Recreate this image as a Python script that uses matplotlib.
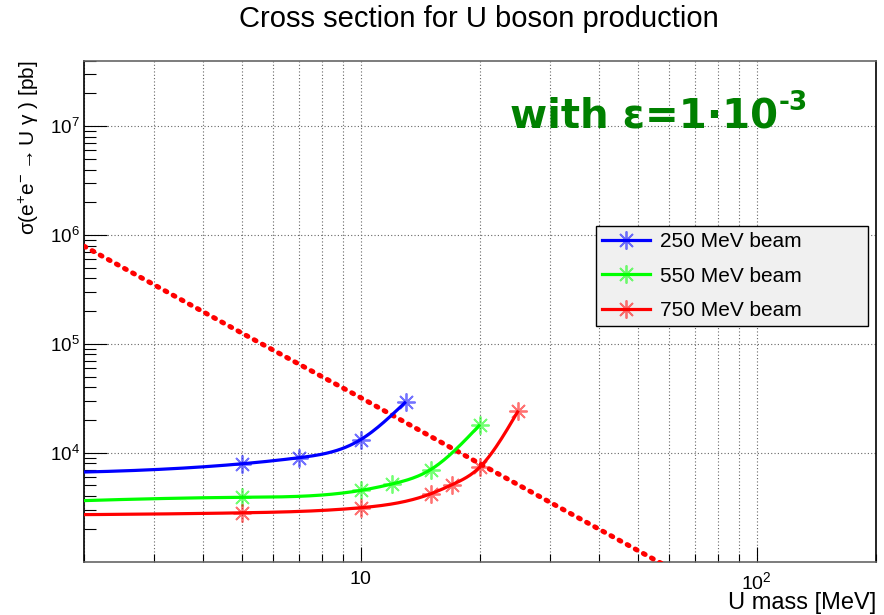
import numpy as np
import matplotlib
matplotlib.use("Agg")
import matplotlib.pyplot as plt
from matplotlib.lines import Line2D
from matplotlib.ticker import LogLocator, NullFormatter, FixedLocator, FixedFormatter

plt.rcParams['font.family'] = ['Liberation Sans', 'DejaVu Sans']
plt.rcParams['mathtext.fontset'] = 'custom'
plt.rcParams['mathtext.rm'] = 'Liberation Sans'
plt.rcParams['mathtext.it'] = 'Liberation Sans:italic'
plt.rcParams['mathtext.bf'] = 'Liberation Sans:bold'
plt.rcParams['mathtext.default'] = 'regular'

# U boson mass [MeV] and cross sections [pb] for each beam energy
mass_250 = [1, 5, 7, 10, 13]
xsec_250 = [6400, 7900, 9000, 13200, 29400]

mass_550 = [1, 5, 10, 12, 15, 20]
xsec_550 = [3330, 3890, 4500, 5160, 6980, 18100]

mass_750 = [1, 5, 10, 15, 17, 20, 25]
xsec_750 = [2660, 2800, 3120, 4180, 5080, 7400, 24400]

# reference line for epsilon = 1e-3
mass_eps = [2, 5, 10, 20, 60]
xsec_eps = [790000, 126000, 32000, 7900, 880]

series = [
    ("250 MeV beam", mass_250, xsec_250, (0, 0, 1)),
    ("550 MeV beam", mass_550, xsec_550, (0, 1, 0)),
    ("750 MeV beam", mass_750, xsec_750, (1, 0, 0)),
]


def smooth_loglog(x, y, n=300):
    """Natural cubic spline through the points in log-log space (curve drawing)."""
    lx = np.log10(np.asarray(x, float))
    ly = np.log10(np.asarray(y, float))
    k = len(lx)
    h = np.diff(lx)
    A = np.zeros((k, k))
    b = np.zeros(k)
    A[0, 0] = A[-1, -1] = 1.0
    for i in range(1, k - 1):
        A[i, i - 1] = h[i - 1]
        A[i, i] = 2 * (h[i - 1] + h[i])
        A[i, i + 1] = h[i]
        b[i] = 6 * ((ly[i + 1] - ly[i]) / h[i] - (ly[i] - ly[i - 1]) / h[i - 1])
    M = np.linalg.solve(A, b)
    xs = np.linspace(lx[0], lx[-1], n)
    idx = np.clip(np.searchsorted(lx, xs) - 1, 0, k - 2)
    x0, x1 = lx[idx], lx[idx + 1]
    hh = x1 - x0
    a = (x1 - xs) / hh
    c = (xs - x0) / hh
    ys = (a * ly[idx] + c * ly[idx + 1]
          + ((a ** 3 - a) * M[idx] + (c ** 3 - c) * M[idx + 1]) * hh ** 2 / 6)
    return 10 ** xs, 10 ** ys


fig = plt.figure(figsize=(8.84, 6.15), dpi=100)
ax = fig.add_axes([84 / 884, 1 - 561.5 / 615, 792 / 884, 500.8 / 615])

ax.set_xscale('log')
ax.set_yscale('log')
ax.set_xlim(2, 200)
ax.set_ylim(1000, 4e7)

# grid: vertical at every x tick, horizontal at decades only
ax.set_axisbelow(True)
ax.xaxis.set_major_locator(FixedLocator([10, 100]))
ax.xaxis.set_major_formatter(FixedFormatter([r'$10$', r'$10^{2}$']))
ax.xaxis.set_minor_locator(LogLocator(base=10, subs=np.arange(2, 10)))
ax.xaxis.set_minor_formatter(NullFormatter())
ax.yaxis.set_major_locator(FixedLocator([1e4, 1e5, 1e6, 1e7]))
ax.yaxis.set_major_formatter(FixedFormatter([r'$10^{4}$', r'$10^{5}$', r'$10^{6}$', r'$10^{7}$']))
ax.yaxis.set_minor_locator(LogLocator(base=10, subs=np.arange(2, 10)))
ax.yaxis.set_minor_formatter(NullFormatter())

grid_kw = dict(color='#666666', linewidth=0.8, linestyle=(0, (1, 2)))
ax.grid(True, which='both', axis='x', **grid_kw)
ax.grid(True, which='major', axis='y', **grid_kw)

ax.tick_params(axis='x', which='major', direction='in', length=11, width=0.8,
               labelsize=14, pad=7, top=False)
ax.tick_params(axis='x', which='minor', direction='in', length=6, width=0.8, top=False)
ax.tick_params(axis='y', which='major', direction='in', length=16.5, width=0.8,
               labelsize=13.5, pad=3, right=False)
ax.tick_params(axis='y', which='minor', direction='in', length=8.5, width=0.8, right=False)

for side in ('left', 'right'):
    ax.spines[side].set_color('black')
    ax.spines[side].set_linewidth(1.2)
for side in ('top', 'bottom'):
    ax.spines[side].set_color('#666666')
    ax.spines[side].set_linewidth(1.2)

# epsilon reference line
ax.plot(mass_eps, xsec_eps, color='red', linewidth=3.6,
        linestyle=(0, (0.4, 1.45)), dash_capstyle='round', zorder=3)

handles = []
for label, m, s, col in series:
    xs, ys = smooth_loglog(m, s)
    ax.plot(xs, ys, color=col, linewidth=2.3, solid_capstyle='butt', zorder=4)
    mk_col = col + (0.55,)
    ax.plot(m, s, linestyle='none', marker=(8, 2, 0), markersize=13,
            markeredgewidth=1.3, markeredgecolor=mk_col, zorder=5)
    handles.append(Line2D([], [], color=col, linewidth=2.3, marker=(8, 2, 0),
                          markersize=13, markeredgewidth=1.3,
                          markeredgecolor=mk_col))

leg = ax.legend(handles, [h[0] for h in series], loc='upper left',
                bbox_to_anchor=(0.646, 0.670, 0.344, 0.0), mode='expand',
                borderaxespad=0, fontsize=15, frameon=True, fancybox=False,
                framealpha=1, facecolor='#f0f0f0', edgecolor='black',
                handlelength=2.3, handletextpad=0.5, labelspacing=0.74,
                borderpad=0.3)
leg.get_frame().set_linewidth(1.0)
leg.set_zorder(10)

ax.text(0.538, 0.867, 'with ε=1·10', transform=ax.transAxes, color='#008000',
        fontsize=29, fontweight='bold', family='DejaVu Sans', ha='left',
        va='baseline')
ax.text(0.877, 0.902, '-3', transform=ax.transAxes, color='#008000',
        fontsize=19, fontweight='bold', family='DejaVu Sans', ha='left',
        va='baseline')

fig.text(0.542, 1 - 19 / 615, 'Cross section for U boson production',
         ha='center', va='center', fontsize=21)
fig.text(876 / 884, 1 - 603 / 615, 'U mass [MeV]', ha='right', va='center',
         fontsize=17)
fig.text(29 / 884, 1 - 60 / 615,
         r'$\sigma(e^{+}e^{-} \rightarrow U\ \gamma\ )$ [pb]',
         rotation=90, ha='center', va='top', fontsize=15)

fig.savefig('out.png', dpi=100)
